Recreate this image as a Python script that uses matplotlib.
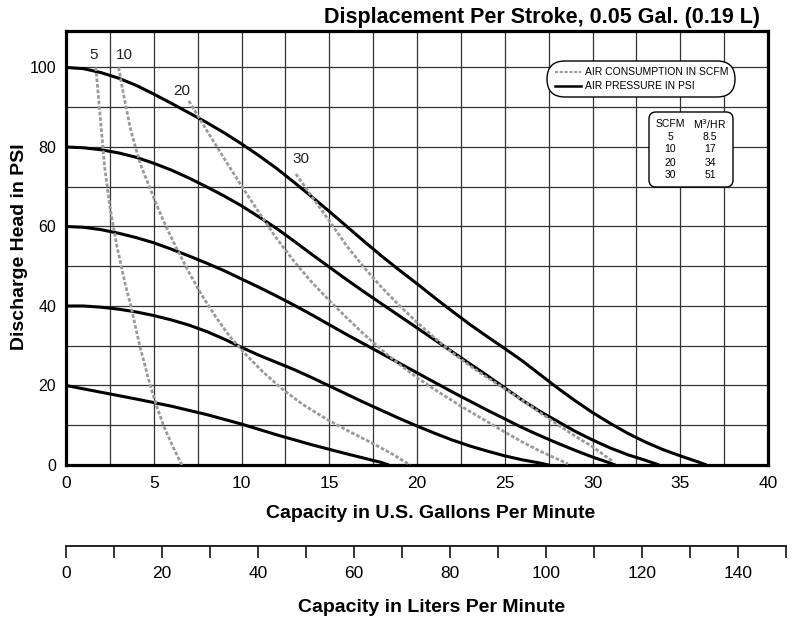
import matplotlib
matplotlib.use('Agg')
import matplotlib.pyplot as plt
from matplotlib.patches import FancyBboxPatch
from matplotlib.lines import Line2D

# air pressure curves (gpm, psi)
p100_x = [0, 1, 2, 3, 4, 5, 6, 7, 8, 9, 10, 11, 12, 13, 14, 15, 16, 17, 18, 19, 20,
          21, 22, 23, 24, 25, 26, 27, 28, 29, 30, 31, 32, 33, 34, 35, 36, 36.5]
p100_y = [100, 99.7, 98.7, 97.3, 95.5, 93.3, 91, 88.6, 86.2, 83.6, 80.8, 77.8, 74.6, 71.1,
          67.5, 63.8, 60, 56.2, 52.5, 49, 45.6, 42.1, 38.7, 35.4, 32.3, 29.3, 26.2, 22.8,
          19.4, 16.2, 13.2, 10.5, 8, 5.8, 3.9, 2.3, 0.8, 0]
p80_x = [0, 1, 2, 3, 4, 5, 6, 7, 8, 9, 10, 11, 12, 13, 14, 15, 16, 17, 18, 19, 20,
         21, 22, 23, 24, 25, 26, 27, 28, 29, 30, 31, 32, 33, 33.8]
p80_y = [80, 79.8, 79.3, 78.5, 77.4, 75.9, 74.2, 72.2, 70, 67.7, 65.2, 62.4, 59.5, 56.3,
         53, 49.8, 46.6, 43.5, 40.5, 37.5, 34.5, 31.5, 28.5, 25.5, 22.5, 19.4, 16.3, 13.5,
         11, 8.5, 6.3, 4.3, 2.6, 1.2, 0]
p60_x = [0, 1, 2, 3, 4, 5, 6, 7, 8, 9, 10, 11, 12, 13, 14, 15, 16, 17, 18, 19, 20,
         21, 22, 23, 24, 25, 26, 27, 28, 29, 30, 31, 31.3]
p60_y = [60, 59.8, 59.2, 58.3, 57.2, 55.9, 54.3, 52.6, 50.8, 48.9, 46.8, 44.7, 42.5, 40.2,
         37.8, 35.3, 32.8, 30.4, 28, 25.6, 23.2, 20.8, 18.4, 16.1, 13.8, 11.6, 9.4, 7.4,
         5.5, 3.7, 2.0, 0.5, 0]
p40_x = [0, 1, 2, 3, 4, 5, 6, 7, 8, 9, 10, 11, 12, 13, 14, 15, 16, 17, 18, 19, 20,
         21, 22, 23, 24, 25, 26, 27, 27.5]
p40_y = [40, 40, 39.7, 39.2, 38.5, 37.6, 36.5, 35.2, 33.6, 31.7, 29.6, 27.6, 25.8, 24, 22,
         19.9, 17.8, 15.7, 13.7, 11.7, 9.8, 8, 6.3, 4.8, 3.5, 2.3, 1.3, 0.5, 0]
p20_x = [0, 2, 4, 6, 8, 10, 12, 14, 16, 17, 18, 18.4]
p20_y = [20, 18.3, 16.6, 14.8, 12.7, 10.3, 7.6, 5.1, 2.8, 1.7, 0.6, 0]

# air consumption curves (scfm)
a5_x = [1.7, 1.8, 1.9, 2.0, 2.1, 2.2, 2.35, 2.5, 2.7, 2.9, 3.15, 3.4, 3.7, 3.95, 4.2, 4.5,
        4.8, 5.15, 5.55, 6.05, 6.6]
a5_y = [100, 95, 90, 85, 80, 75, 70, 65, 60, 55, 50, 45, 40, 35, 30, 25, 20, 15, 10, 5, 0]
a10_x = [3.0, 3.2, 3.4, 3.65, 3.95, 4.3, 4.75, 5.2, 5.7, 6.3, 7.0, 7.7, 8.5, 9.3, 10.2, 11.2,
         12.3, 13.5, 14.9, 16.2, 17.4, 18.5, 19.6]
a10_y = [100, 95, 90.5, 85, 80, 75, 70, 65, 60, 54.5, 48.5, 43, 37.5, 32.5, 28, 23.5, 19.2,
         15.2, 11.4, 8.3, 5.6, 3, 0]
a20_x = [7.0, 8, 9, 10, 11, 12, 13, 14, 15, 16, 17, 18, 19, 20, 21, 22, 23, 24, 25, 26, 27,
         28, 28.6]
a20_y = [91.6, 84.3, 77.2, 70.2, 63.5, 57, 51.2, 46, 41.4, 37, 32.8, 28.9, 25.3, 22, 19,
         16.2, 13.5, 10.9, 8.3, 5.8, 3.5, 1.5, 0.3]
a30_x = [13.1, 14, 15, 16, 17, 18, 19, 20, 21, 22, 23, 24, 25, 26, 27, 28, 29, 30, 31, 31.2]
a30_y = [73.2, 67.6, 61.4, 55.1, 49.6, 44.6, 40.1, 35.9, 32, 28.3, 25, 22, 19.2, 16.3, 13.2,
         10.2, 7.3, 4.6, 1.4, 0.8]

pressure = [(p100_x, p100_y), (p80_x, p80_y), (p60_x, p60_y), (p40_x, p40_y), (p20_x, p20_y)]
air = [(a5_x, a5_y), (a10_x, a10_y), (a20_x, a20_y), (a30_x, a30_y)]
air_labels = ['5', '10', '20', '30']
air_label_pos = [(1.6, 103.2), (3.3, 103.2), (6.6, 94.2), (13.4, 77.0)]

scfm = ['5', '10', '20', '30']
m3hr = ['8.5', '17', '34', '51']

narrow = ['Liberation Sans Narrow', 'Liberation Sans', 'DejaVu Sans']
plt.rcParams['font.family'] = ['Liberation Sans', 'DejaVu Sans']

W, H = 794, 622
fig = plt.figure(figsize=(W / 100, H / 100), dpi=100)

def px(l, t, r, b):
    return [l / W, (H - b) / H, (r - l) / W, (b - t) / H]

ax = fig.add_axes(px(66, 30.5, 768, 465))
for xs, ys in pressure:
    ax.plot(xs, ys, color='black', lw=2.2, solid_capstyle='butt', solid_joinstyle='round',
            zorder=3)
for xs, ys in air:
    ax.plot(xs, ys, color='#9a9a9a', lw=2.0, linestyle=(0, (1.3, 0.7)), zorder=3)
for lab, (x, y) in zip(air_labels, air_label_pos):
    ax.text(x, y, lab, fontsize=11, ha='center', va='center', color='#222222')

ax.set_xlim(0, 40)
ax.set_ylim(0, 109.3)
ax.set_xticks(range(0, 41, 5))
ax.set_xticks([x * 2.5 for x in range(17)], minor=True)
ax.set_yticks(range(0, 101, 20))
ax.set_yticks(range(0, 110, 10), minor=True)
ax.grid(True, which='both', color='#333333', lw=0.9)
ax.tick_params(which='both', length=0)
ax.tick_params(axis='x', labelsize=12.5, pad=8)
ax.tick_params(axis='y', labelsize=11.5, pad=7)
for s in ax.spines.values():
    s.set_linewidth(2.3)
ax.set_xlabel('Capacity in U.S. Gallons Per Minute', family=narrow, fontweight='bold',
              fontsize=14, va='center')
ax.xaxis.set_label_coords((431 - 66) / 702, -(513 - 465) / 434.5)
ax.set_ylabel('Discharge Head in PSI', family=narrow, fontweight='bold', fontsize=14,
              va='center')
ax.yaxis.set_label_coords(-(66 - 20) / 702, (465 - 247) / 434.5)

# liters per minute scale
ax2 = fig.add_axes(px(66, 545, 786, 546))
ax2.set_xlim(0, 150)
ax2.set_yticks([])
ax2.set_xticks(range(0, 151, 20))
ax2.set_xticks(range(0, 151, 10), minor=True)
ax2.tick_params(which='both', direction='out', length=8.5, width=1.1)
ax2.tick_params(axis='x', labelsize=12.5, pad=6)
for k in ['top', 'left', 'right']:
    ax2.spines[k].set_visible(False)
ax2.spines['bottom'].set_linewidth(1.2)
ax2.patch.set_visible(False)

fig.text(432 / W, (H - 608) / H, 'Capacity in Liters Per Minute', family=narrow,
         fontweight='bold', fontsize=14, ha='center', va='center')
fig.text(760 / W, (H - 18) / H, 'Displacement Per Stroke, 0.05 Gal. (0.19 L)', family=narrow,
         fontweight='bold', fontsize=15.5, ha='right', va='center')

# overlay in pixel units for the legend boxes
ov = fig.add_axes([0, 0, 1, 1], zorder=5)
ov.set_xlim(0, W)
ov.set_ylim(H, 0)
ov.axis('off')
ov.patch.set_visible(False)

ov.add_patch(FancyBboxPatch((547, 61), 188, 36, boxstyle='round,pad=0,rounding_size=18',
                            fc='white', ec='black', lw=1.0))
ov.add_line(Line2D([555, 581], [72, 72], color='#9a9a9a', lw=1.5, linestyle=(0, (1.5, 0.8))))
ov.add_line(Line2D([555, 581], [86, 86], color='black', lw=1.8))
ov.text(585, 72, 'AIR CONSUMPTION IN SCFM', fontsize=7.5, va='center')
ov.text(585, 86, 'AIR PRESSURE IN PSI', fontsize=7.5, va='center')

ov.add_patch(FancyBboxPatch((649, 112), 84, 75, boxstyle='round,pad=0,rounding_size=7',
                            fc='white', ec='black', lw=1.0))
ov.text(670, 124, 'SCFM', fontsize=7.5, ha='center', va='center')
ov.text(710, 124, 'M$^3$/HR', fontsize=7.5, ha='center', va='center')
for i, (a, b) in enumerate(zip(scfm, m3hr)):
    ov.text(670, 136.5 + i * 13, a, fontsize=7.5, ha='center', va='center')
    ov.text(710, 136.5 + i * 13, b, fontsize=7.5, ha='center', va='center')

fig.savefig('out.png', dpi=100)
